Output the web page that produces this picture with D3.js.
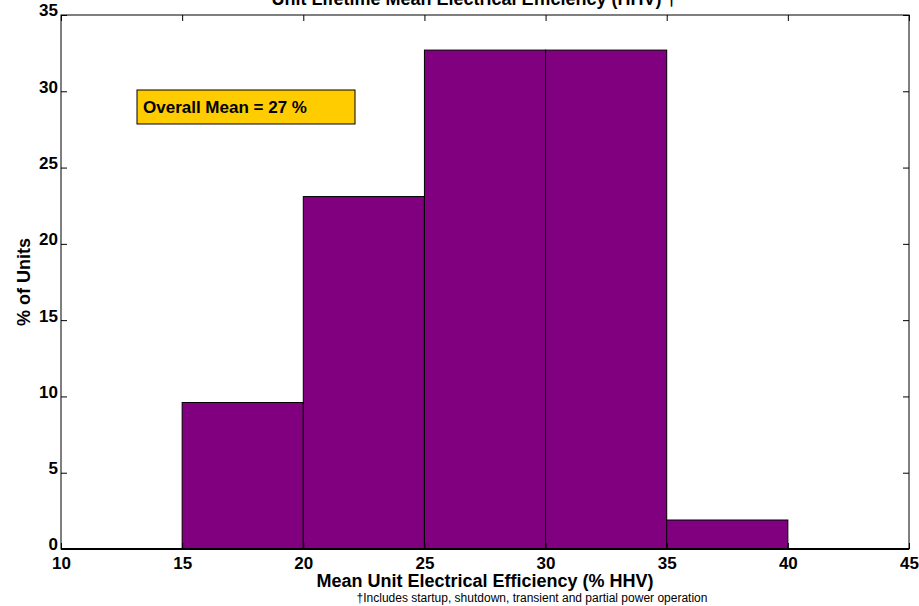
<!DOCTYPE html>
<html>
<head>
<meta charset="utf-8">
<script src="https://cdn.jsdelivr.net/npm/d3@7"></script>
<style>
  body { margin: 0; background: #fff; }
  text { font-family: "Liberation Sans", Arial, sans-serif; }
</style>
</head>
<body>
<script>
// histogram bins (% HHV) and share of units
var binStarts = [15, 20, 25, 30, 35];
var binWidth = 5;
var pctUnits = [9.6, 23.1, 32.7, 32.7, 1.9];
var xTicks = [10, 15, 20, 25, 30, 35, 40, 45];
var yTicks = [0, 5, 10, 15, 20, 25, 30, 35];
var meanLabel = "Overall Mean = 27 %";

var W = 919, H = 606;
var plotL = 61, plotR = 909, plotT = 15, plotB = 549;

var svg = d3.select("body").append("svg")
  .attr("width", W).attr("height", H);

var x = d3.scaleLinear().domain([10, 45]).range([plotL, plotR]);
var y = d3.scaleLinear().domain([0, 35]).range([plotB, plotT]);

// title (cut off at top in original)
svg.append("text")
  .attr("x", 474).attr("y", 5)
  .attr("text-anchor", "middle")
  .style("font-size", "18px").style("font-weight", "bold")
  .text("Unit Lifetime Mean Electrical Efficiency (HHV) \u2020");

// bars
svg.selectAll("rect.bar").data(binStarts).enter().append("rect")
  .attr("class", "bar")
  .attr("x", function(d) { return x(d); })
  .attr("width", function(d) { return x(d + binWidth) - x(d); })
  .attr("y", function(d, i) { return y(pctUnits[i]); })
  .attr("height", function(d, i) { return y(0) - y(pctUnits[i]); })
  .style("fill", "#800080")
  .style("stroke", "#000")
  .style("stroke-width", 1);

// axes (MATLAB style, ticks inward on all sides)
var tickLen = 6;
var xAxisB = d3.axisBottom(x).tickValues(xTicks).tickSizeInner(-tickLen).tickSizeOuter(0).tickPadding(3);
var xAxisT = d3.axisTop(x).tickValues(xTicks).tickSizeInner(-tickLen).tickSizeOuter(0).tickFormat("");
var yAxisL = d3.axisLeft(y).tickValues(yTicks).tickSizeInner(-tickLen).tickSizeOuter(0).tickPadding(3);
var yAxisR = d3.axisRight(y).tickValues(yTicks).tickSizeInner(-tickLen).tickSizeOuter(0).tickFormat("");

var gB = svg.append("g").attr("transform", "translate(0," + plotB + ")").call(xAxisB);
var gT = svg.append("g").attr("transform", "translate(0," + plotT + ")").call(xAxisT);
var gL = svg.append("g").attr("transform", "translate(" + plotL + ",0)").call(yAxisL);
var gR = svg.append("g").attr("transform", "translate(" + plotR + ",0)").call(yAxisR);

[gB, gT, gL, gR].forEach(function(g) {
  g.select(".domain").remove();
  g.selectAll("line").style("stroke", "#000");
  g.selectAll("text")
    .style("font-family", "'Liberation Sans', Arial, sans-serif")
    .style("font-size", "17px").style("font-weight", "bold").style("fill", "#000");
});
gB.selectAll("text").attr("y", 0).attr("dy", "1.15em");
gL.selectAll("text").attr("dy", "0.05em");

// box
svg.append("rect")
  .attr("x", plotL).attr("y", plotT)
  .attr("width", plotR - plotL).attr("height", plotB - plotT)
  .style("fill", "none").style("stroke", "#000").style("stroke-width", 1);
svg.append("line")
  .attr("x1", plotL).attr("x2", plotR).attr("y1", plotB).attr("y2", plotB)
  .style("stroke", "#000").style("stroke-width", 2);

// mean annotation
svg.append("rect")
  .attr("x", 137).attr("y", 90).attr("width", 218).attr("height", 34)
  .style("fill", "#FFCC00").style("stroke", "#000").style("stroke-width", 1);
svg.append("text")
  .attr("x", 143).attr("y", 113)
  .style("font-size", "17px").style("font-weight", "bold")
  .text(meanLabel);

// axis labels
svg.append("text")
  .attr("x", 485).attr("y", 587)
  .attr("text-anchor", "middle")
  .style("font-size", "18px").style("font-weight", "bold")
  .text("Mean Unit Electrical Efficiency (% HHV)");
svg.append("text")
  .attr("transform", "translate(30,282) rotate(-90)")
  .attr("text-anchor", "middle")
  .style("font-size", "18px").style("font-weight", "bold")
  .text("% of Units");

svg.append("text")
  .attr("x", 532).attr("y", 602)
  .attr("text-anchor", "middle")
  .style("font-size", "12px")
  .text("\u2020Includes startup, shutdown, transient and partial power operation");
</script>
</body>
</html>
